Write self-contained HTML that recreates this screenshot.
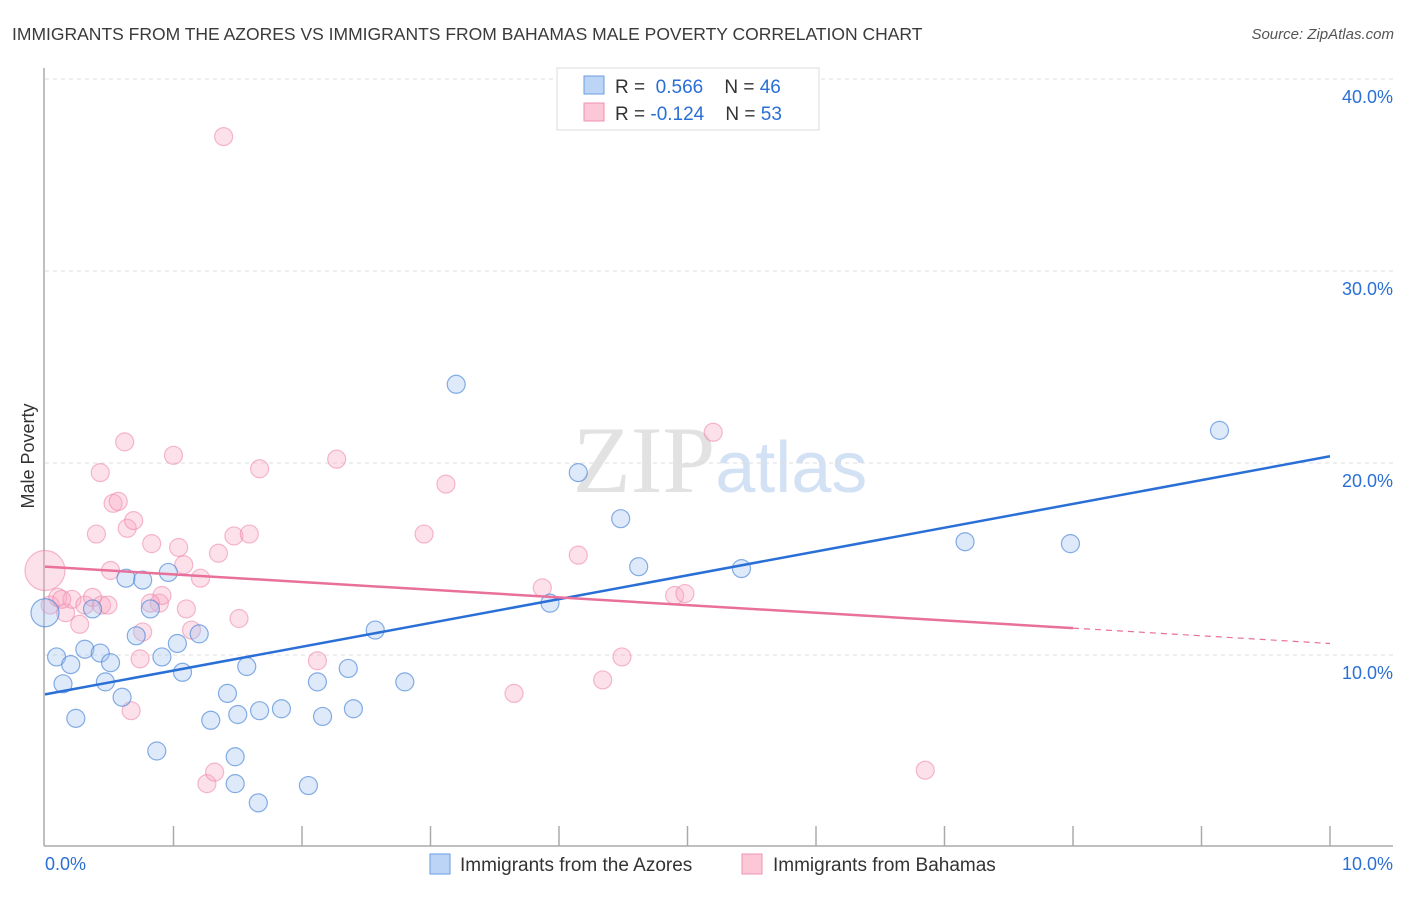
<!DOCTYPE html>
<html><head><meta charset="utf-8"><style>
body{margin:0;background:#fff;font-family:"Liberation Sans",sans-serif}
</style></head><body>
<svg id="c" width="1406" height="892" xmlns="http://www.w3.org/2000/svg">
<text x="12" y="40" font-size="17.5" fill="#3a3a3a">IMMIGRANTS FROM THE AZORES VS IMMIGRANTS FROM BAHAMAS MALE POVERTY CORRELATION CHART</text>
<text x="1394" y="39" font-size="15" fill="#555" text-anchor="end" font-style="italic">Source: ZipAtlas.com</text>
<text x="720" y="492" font-size="95" fill="#e2e2e2" text-anchor="middle" font-family="Liberation Serif,serif">ZIP<tspan fill="#d2e1f4" font-family="Liberation Sans,sans-serif" font-size="72">atlas</tspan></text>
<text transform="translate(34,456) rotate(-90)" font-size="18" fill="#333" text-anchor="middle">Male Poverty</text>
<g id="grid"></g><g id="pts"></g><g id="lines"></g>
<g>
<rect x="557" y="68" width="262" height="62" fill="#fff" stroke="#ddd"/>
<rect x="584" y="76" width="20" height="18" fill="#bcd4f5" stroke="#6a9be0"/>
<rect x="584" y="103" width="20" height="18" fill="#fcc8d8" stroke="#ec92b0"/>
<text x="615" y="93" font-size="19" fill="#333">R = <tspan fill="#2a6fd6">&#160;0.566</tspan>&#160;&#160;&#160;&#160;N = <tspan fill="#2a6fd6">46</tspan></text>
<text x="615" y="120" font-size="19" fill="#333">R = <tspan fill="#2a6fd6">-0.124</tspan>&#160;&#160;&#160;&#160;N = <tspan fill="#2a6fd6">53</tspan></text>
</g>
<g>
<rect x="430" y="854" width="20" height="20" fill="#bcd4f5" stroke="#6a9be0"/>
<text x="460" y="871" font-size="19" fill="#333">Immigrants from the Azores</text>
<rect x="742" y="854" width="20" height="20" fill="#fcc8d8" stroke="#ec92b0"/>
<text x="773" y="871" font-size="19" fill="#333">Immigrants from Bahamas</text>
</g>
<text x="45" y="870" font-size="18" fill="#2a6fd6">0.0%</text>
<text x="1393" y="870" font-size="18" fill="#2a6fd6" text-anchor="end">10.0%</text>
</svg>
<script>
const yTicks=[10,20,30,40];
const blueX=[0,0.09,0.14,0.2,0.24,0.31,0.37,0.43,0.47,0.51,0.6,0.63,0.71,0.76,0.82,0.87,0.91,0.96,1.03,1.07,1.2,1.29,1.42,1.48,1.5,1.48,1.57,1.66,1.67,1.84,2.05,2.12,2.16,2.36,2.4,2.57,2.8,3.2,3.93,4.15,4.48,4.62,5.42,7.16,7.98,9.14];
const blueY=[12.2,9.9,8.5,9.5,6.7,10.3,12.4,10.1,8.6,9.6,7.8,14.0,11.0,13.9,12.4,5.0,9.9,14.3,10.6,9.1,11.1,6.6,8.0,4.7,6.9,3.3,9.4,2.3,7.1,7.2,3.2,8.6,6.8,9.3,7.2,11.3,8.6,24.1,12.7,19.5,17.1,14.6,14.5,15.9,15.8,21.7];
const pinkX=[0,0.04,0.1,0.16,0.21,0.27,0.31,0.37,0.44,0.4,0.43,0.51,0.53,0.57,0.62,0.64,0.69,0.76,0.74,0.67,0.83,0.89,0.91,1.0,1.04,1.08,1.1,1.14,1.21,1.26,1.32,1.35,1.39,1.47,1.51,1.59,1.67,2.12,2.27,2.95,3.12,3.65,3.87,4.15,4.34,4.49,4.9,4.98,5.2,6.85,0.13,0.49,0.82];
const pinkY=[14.4,12.6,13.0,12.2,12.9,11.6,12.6,13.0,12.6,16.3,19.5,14.4,17.9,18.0,21.1,16.6,17.0,11.2,9.8,7.1,15.8,12.7,13.1,20.4,15.6,14.7,12.4,11.3,14.0,3.3,3.9,15.3,37.0,16.2,11.9,16.3,19.7,9.7,20.2,16.3,18.9,8.0,13.5,15.2,8.7,9.9,13.1,13.2,21.6,4.0,12.9,12.6,12.7];
const blueTrend=[7.95,20.35];
const pinkTrend=[14.6,10.6];
const X=v=>45+v*128.5, Y=v=>847-v*19.2;
const NS='http://www.w3.org/2000/svg';
function mk(t,a,p){const e=document.createElementNS(NS,t);for(const k in a)e.setAttribute(k,a[k]);document.getElementById(p).appendChild(e);return e;}
const ax=mk('line',{x1:44,y1:68,x2:44,y2:846,stroke:'#aaa','stroke-width':1.5},'grid');


const bx=mk('line',{x1:44,y1:846,x2:1393,y2:846,stroke:'#aaa','stroke-width':1.5},'grid');


for(let i=1;i<=10;i++){const t=mk('line',{x1:X(i),y1:826,x2:X(i),y2:846,stroke:'#aaa','stroke-width':1.5},'grid');

}
yTicks.forEach(v=>{const g=mk('line',{x1:45,y1:Y(v),x2:1393,y2:Y(v),stroke:'#ddd','stroke-dasharray':'4,4'},'grid');


const t=mk('text',{x:1393,y:Y(v)+24,'font-size':18,fill:'#2a6fd6','text-anchor':'end'},'grid');t.textContent=v.toFixed(1)+'%';

});
pinkX.forEach((x,i)=>{const c=mk('circle',{cx:X(x),cy:Y(pinkY[i]),r:i==0?20:9,fill:'rgba(248,170,195,0.35)',stroke:'rgba(236,130,165,0.55)','stroke-width':1.2},'pts');

});
blueX.forEach((x,i)=>{const c=mk('circle',{cx:X(x),cy:Y(blueY[i]),r:i==0?14:9,fill:'rgba(160,195,240,0.35)',stroke:'rgba(70,130,215,0.65)','stroke-width':1.2},'pts');

});
const bl=mk('line',{x1:X(0),y1:Y(blueTrend[0]),x2:X(10),y2:Y(blueTrend[1]),stroke:'#2a6fd6','stroke-width':2.5},'lines');


const pm=v=>pinkTrend[0]+(pinkTrend[1]-pinkTrend[0])*v/10;
const pl=mk('line',{x1:X(0),y1:Y(pm(0)),x2:X(8),y2:Y(pm(8)),stroke:'#e8709a','stroke-width':2.5},'lines');


const pd=mk('line',{x1:X(8),y1:Y(pm(8)),x2:X(10),y2:Y(pm(10)),stroke:'#e8709a','stroke-width':1.2,'stroke-dasharray':'6,5'},'lines');


</script>
</body></html>
